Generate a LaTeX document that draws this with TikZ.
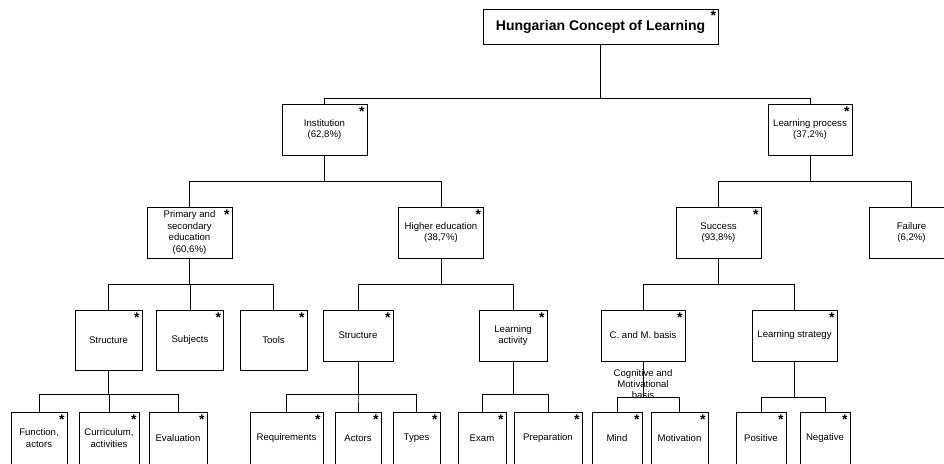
\documentclass[tikz,border=0pt]{standalone}
\usepackage{fontspec}
\setmainfont{Liberation Sans}
\usetikzlibrary{positioning}

\begin{document}
\begin{tikzpicture}[x=1pt, y=-1pt,
  box/.style={draw=black, line width=0.9pt, fill=white, align=center, inner sep=1pt,
      font=\fontsize{9.6}{11.5}\selectfont},
  marked/.style={box, label={[anchor=center, inner sep=0pt, font=\fontsize{14}{14}\bfseries\selectfont,
      xshift=-5.5pt, yshift=-8pt]north east:*}},
  link/.style={draw=black, line width=0.8pt}]

\clip (0,0) rectangle (944,463);

% === Root ===
\node[box, font=\fontsize{14}{16}\bfseries\selectfont, minimum width=235pt, minimum height=35pt,
      label={[anchor=center, inner sep=0pt, font=\fontsize{14}{14}\bfseries\selectfont,
      xshift=-5pt, yshift=-7pt]north east:*}] (root) at (600.5,26.5) {Hungarian Concept of Learning};

% === Level 1 ===
\node[marked, minimum width=85pt, minimum height=51pt] (inst) at (324.5,129.5) {Institution\\(62,8\%)};
\node[marked, minimum width=84pt, minimum height=51pt] (lproc) at (810,129.5) {Learning process\\(37,2\%)};

% === Level 2 ===
\node[marked, minimum width=85pt, minimum height=51pt] (prim) at (189.5,232.5)
     {Primary and\\secondary\\education\\(60,6\%)};
\node[marked, minimum width=85pt, minimum height=51pt] (higher) at (441,232.5) {Higher education\\(38,7\%)};
\node[marked, minimum width=85pt, minimum height=51pt] (success) at (718.5,232.5) {Success\\(93,8\%)};
\node[box, minimum width=85pt, minimum height=51pt] (failure) at (911.5,232.5) {Failure\\(6,2\%)};

% === Level 3 ===
\node[marked, minimum width=67pt, minimum height=60pt] (struct1) at (108.5,340) {Structure};
\node[marked, minimum width=67pt, minimum height=60pt] (subj) at (190,340) {Subjects};
\node[marked, minimum width=67pt, minimum height=60pt] (tools) at (273.5,340) {Tools};
\node[marked, minimum width=70pt, minimum height=51pt] (struct2) at (358,335.5) {Structure};
\node[marked, minimum width=68pt, minimum height=51pt] (lact) at (513,335.5) {Learning\\activity};
\node[marked, minimum width=84pt, minimum height=51pt] (cmb) at (643,335.5) {C. and M. basis};
\node[marked, minimum width=85pt, minimum height=51pt] (lstrat) at (794.5,335.5) {Learning strategy};

% === Level 4 ===
\node[marked, minimum width=56pt, minimum height=52pt] (func) at (39,438) {Function,\\actors};
\node[marked, minimum width=60pt, minimum height=52pt] (curr) at (109,438) {Curriculum,\\activities};
\node[marked, minimum width=58pt, minimum height=52pt] (eval) at (178,438) {Evaluation};
\node[marked, minimum width=73pt, minimum height=52pt] (req) at (286.5,438) {Requirements};
\node[marked, minimum width=46pt, minimum height=52pt] (actors) at (358,438) {Actors};
\node[marked, minimum width=47pt, minimum height=52pt] (types) at (416.5,438) {Types};
\node[marked, minimum width=48pt, minimum height=52pt] (exam) at (482,438) {Exam};
\node[marked, minimum width=68pt, minimum height=52pt] (prep) at (548,438) {Preparation};
\node[marked, minimum width=50pt, minimum height=52pt] (mind) at (617,438) {Mind};
\node[marked, minimum width=57pt, minimum height=52pt] (motiv) at (679.5,438) {Motivation};
\node[marked, minimum width=50pt, minimum height=52pt] (pos) at (761,438) {Positive};
\node[marked, minimum width=50pt, minimum height=52pt] (neg) at (825,438) {Negative};

% Note under C. and M. basis
\node[font=\fontsize{9.6}{11}\selectfont, align=center, inner sep=0pt] (cmbnote) at (643,384)
     {Cognitive and\\Motivational\\basis};

% === Connectors ===
\foreach \kid in {inst,lproc}
  \draw[link] (root.south) |- (\kid.north |- 0,98) -- (\kid.north);
\foreach \kid in {prim,higher}
  \draw[link] (inst.south) |- (\kid.north |- 0,181) -- (\kid.north);
\foreach \kid in {success,failure}
  \draw[link] (lproc.south) |- (\kid.north |- 0,181) -- (\kid.north);
\foreach \kid in {struct1,subj,tools}
  \draw[link] (prim.south) |- (\kid.north |- 0,284) -- (\kid.north);
\foreach \kid in {struct2,lact}
  \draw[link] (higher.south) |- (\kid.north |- 0,284) -- (\kid.north);
\foreach \kid in {cmb,lstrat}
  \draw[link] (success.south) |- (\kid.north |- 0,284) -- (\kid.north);
\foreach \kid in {func,curr,eval}
  \draw[link] (struct1.south) |- (\kid.north |- 0,394) -- (\kid.north);
\foreach \kid in {req,actors,types}
  \draw[link] (struct2.south) |- (\kid.north |- 0,394) -- (\kid.north);
\foreach \kid in {exam,prep}
  \draw[link] (lact.south) |- (\kid.north |- 0,394) -- (\kid.north);
\foreach \kid in {mind,motiv}
  \draw[link] (cmb.south) |- (\kid.north |- 0,397) -- (\kid.north);
\foreach \kid in {pos,neg}
  \draw[link] (lstrat.south) |- (\kid.north |- 0,397) -- (\kid.north);

\end{tikzpicture}
\end{document}
